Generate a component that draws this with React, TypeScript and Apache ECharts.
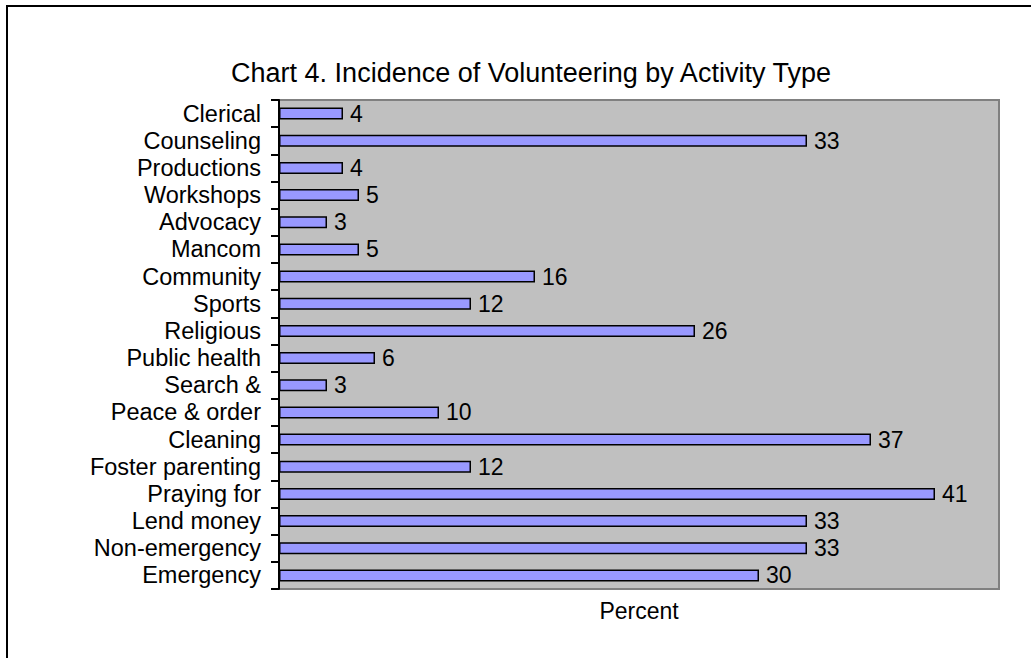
import React, { useEffect, useRef } from "react";
import * as echarts from "echarts";

const categories = [
  "Clerical",
  "Counseling",
  "Productions",
  "Workshops",
  "Advocacy",
  "Mancom",
  "Community",
  "Sports",
  "Religious",
  "Public health",
  "Search &",
  "Peace & order",
  "Cleaning",
  "Foster parenting",
  "Praying for",
  "Lend money",
  "Non-emergency",
  "Emergency",
];
const values = [4, 33, 4, 5, 3, 5, 16, 12, 26, 6, 3, 10, 37, 12, 41, 33, 33, 30];
const titleText = "Chart 4. Incidence of Volunteering by Activity Type";
const xAxisName = "Percent";

const FONT = "'Liberation Sans', Arial, sans-serif";

export default function App() {
  const ref = useRef<HTMLDivElement>(null);
  useEffect(() => {
    if (!ref.current) return;
    const chart = echarts.init(ref.current, undefined, { renderer: "svg" });
    chart.setOption({
      animation: false,
      backgroundColor: "#ffffff",
      textStyle: { fontFamily: FONT },
      title: {
        text: titleText,
        left: 526,
        top: 54,
        textAlign: "center",
        textStyle: { fontFamily: FONT, fontSize: 27, fontWeight: "normal", color: "#000" },
      },
      graphic: [
        {
          type: "rect",
          shape: { x: 7, y: 6, width: 1100, height: 700 },
          style: { fill: "none", stroke: "#000", lineWidth: 2 },
          silent: true,
          z: 100,
        },
      ],
      grid: {
        left: 279,
        top: 100,
        width: 720,
        height: 489,
        show: true,
        backgroundColor: "#C0C0C0",
        borderColor: "#808080",
        borderWidth: 2,
      },
      xAxis: {
        type: "value",
        min: 0,
        max: 45,
        axisLabel: { show: false },
        axisTick: { show: false },
        axisLine: { show: false },
        splitLine: { show: false },
        name: xAxisName,
        nameLocation: "middle",
        nameGap: 10,
        nameTextStyle: { fontFamily: FONT, fontSize: 23, color: "#000", verticalAlign: "top" },
      },
      yAxis: {
        type: "category",
        data: categories,
        inverse: true,
        axisLine: { show: true, lineStyle: { color: "#000", width: 2 } },
        axisTick: { show: true, length: 8, inside: false, lineStyle: { color: "#000", width: 2 } },
        axisLabel: { interval: 0, fontFamily: FONT, fontSize: 23.5, color: "#000", margin: 18 },
        splitLine: { show: false },
      },
      series: [
        {
          type: "bar",
          data: values,
          barWidth: 12,
          itemStyle: { color: "#9999FF", borderColor: "#000", borderWidth: 1.5 },
          label: {
            show: true,
            position: "right",
            distance: 7,
            fontFamily: FONT,
            fontSize: 23,
            color: "#000",
          },
        },
      ],
    });
    return () => chart.dispose();
  }, []);
  return (
    <div
      ref={ref}
      style={{ position: "absolute", left: 0, top: 0, width: 1031, height: 658 }}
    />
  );
}
